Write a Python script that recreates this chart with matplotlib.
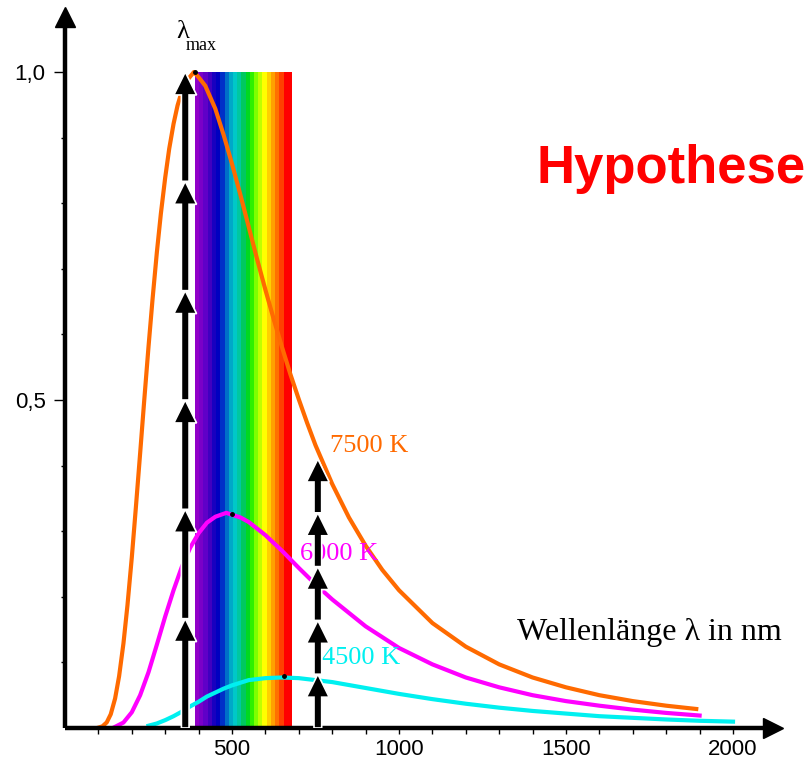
import matplotlib
matplotlib.use('Agg')
import matplotlib.pyplot as plt
import numpy as np
from matplotlib.patches import FancyArrow
from matplotlib.colors import to_rgb

# ---- data ----
wl_7500 = [100, 112, 125, 137, 150, 162, 175, 187, 200, 212, 225, 237, 250, 262, 275, 287,
           300, 312, 325, 337, 350, 360, 370, 386, 400, 420, 450, 475, 500, 525, 550, 575,
           600, 625, 650, 675, 700, 725, 750, 800, 850, 900, 950, 1000, 1100, 1200, 1300,
           1400, 1500, 1600, 1700, 1800, 1890]
val_7500 = [0.0006, 0.0025, 0.0086, 0.021, 0.045, 0.079, 0.129, 0.187, 0.260, 0.335, 0.419,
            0.498, 0.581, 0.653, 0.725, 0.784, 0.839, 0.883, 0.921, 0.949, 0.971, 0.983,
            0.990, 1.000, 0.992, 0.979, 0.944, 0.904, 0.860, 0.813, 0.764, 0.715, 0.668,
            0.623, 0.580, 0.539, 0.501, 0.465, 0.431, 0.372, 0.321, 0.278, 0.241, 0.210,
            0.160, 0.124, 0.097, 0.077, 0.062, 0.050, 0.041, 0.034, 0.029]

wl_6000 = [150, 175, 200, 225, 250, 275, 300, 325, 350, 375, 400, 425, 450, 483, 500, 525,
           550, 575, 600, 625, 650, 700, 750, 800, 900, 1000, 1100, 1200, 1300, 1400, 1500,
           1600, 1700, 1800, 1900]
val_6000 = [0.0018, 0.0083, 0.024, 0.050, 0.085, 0.127, 0.170, 0.210, 0.246, 0.275, 0.297,
            0.313, 0.322, 0.328, 0.325, 0.321, 0.314, 0.304, 0.294, 0.282, 0.270, 0.244,
            0.219, 0.196, 0.155, 0.122, 0.097, 0.077, 0.062, 0.050, 0.041, 0.034, 0.028,
            0.023, 0.019]

wl_4500 = [250, 275, 300, 325, 350, 375, 400, 425, 450, 475, 500, 550, 600, 650, 700, 750,
           800, 900, 1000, 1100, 1200, 1300, 1400, 1500, 1600, 1700, 1800, 1900, 2000]
val_4500 = [0.0035, 0.0069, 0.012, 0.018, 0.025, 0.033, 0.040, 0.048, 0.054, 0.060, 0.065,
            0.073, 0.076, 0.077, 0.076, 0.073, 0.070, 0.061, 0.052, 0.044, 0.037, 0.031,
            0.026, 0.022, 0.018, 0.0155, 0.013, 0.011, 0.0097]

curve_labels = ['7500 K', '6000 K', '4500 K']
curve_colors = ['#ff6a00', '#ff00ff', '#00f0f0']
label_pos_nm = [793, 704, 770]
label_pos_val = [0.430, 0.266, 0.106]

peak_nm = [390, 500, 657]
peak_val = [1.0, 0.326, 0.079]

spectrum_range = [390, 680]
spectrum_colors = ['#9000c8', '#7a00c8', '#6000c8', '#4000c0', '#1800c0', '#0000c0',
                   '#0030c8', '#0070c8', '#00a8c8', '#00c8c8', '#00c8a0', '#00c860',
                   '#00d820', '#30f000', '#80ff00', '#c0ff00', '#ffff00', '#ffd000',
                   '#ffa000', '#ff7000', '#ff4000', '#ff0000', '#ff0000']

# arrow columns: x position (nm), top value, number of stacked arrows
arrow_x = [360, 757]
arrow_top = [1.0, 0.41]
arrow_n = [6, 5]

x_major = [500, 1000, 1500, 2000]
x_major_labels = ['500', '1000', '1500', '2000']
y_major = [0.5, 1.0]
y_major_labels = ['0,5', '1,0']

# ---- figure ----
fig = plt.figure(figsize=(8.12, 7.66), dpi=100)
XMAX, YMAX = 2120, 1.084
ax = fig.add_axes([65 / 812, 38 / 766, XMAX * 0.334 / 812, YMAX * 656 / 766])

img = np.array([[to_rgb(c) for c in spectrum_colors]])
ax.imshow(img, extent=[spectrum_range[0], spectrum_range[1], 0, 1.0], aspect='auto',
          interpolation='nearest', zorder=1)

for wl, val, col in zip([wl_7500, wl_6000, wl_4500], [val_7500, val_6000, val_4500], curve_colors):
    ax.plot(wl, val, color=col, lw=3, zorder=2, solid_joinstyle='round')

ax.plot(peak_nm, peak_val, 'o', color='black', ms=2.5, zorder=3)

for lab, col, xn, yv in zip(curve_labels, curve_colors, label_pos_nm, label_pos_val):
    ax.text(xn, yv, lab, color=col, fontsize=19, family='Liberation Serif', va='center',
            ha='left', zorder=3)

for xa, top, n in zip(arrow_x, arrow_top, arrow_n):
    step = top / n
    for k in range(n):
        ar = FancyArrow(xa, k * step, 0, step, width=23, head_width=68, head_length=0.035,
                        length_includes_head=True, fc='black', ec='white', lw=1.2, zorder=5)
        ax.add_patch(ar)

ax.text(353, 1.061, 'λ', fontsize=19, family='Liberation Serif', ha='center', va='center')
ax.text(362, 1.041, 'max', fontsize=13, family='Liberation Serif', ha='left', va='center')

ax.text(1353, 0.146, 'Wellenlänge λ in nm', fontsize=23, family='Liberation Serif',
        va='center', ha='left', clip_on=False)
ax.text(1413, 0.852, 'Hypothese', fontsize=38, fontweight='bold', color='#ff0000',
        family='Liberation Sans', va='center', ha='left', clip_on=False)

ax.set_xlim(0, XMAX)
ax.set_ylim(0, YMAX)
for s in ['top', 'right']:
    ax.spines[s].set_visible(False)
for s in ['left', 'bottom']:
    ax.spines[s].set_linewidth(3.2)
    ax.spines[s].set_capstyle('butt')

ax.plot(1, 0, marker='>', color='black', ms=15, transform=ax.transAxes, clip_on=False, zorder=6)
ax.plot(0, 1, marker='^', color='black', ms=15, transform=ax.transAxes, clip_on=False, zorder=6)

ax.set_xticks(x_major)
ax.set_xticklabels(x_major_labels)
ax.set_xticks(np.arange(100, 2101, 100), minor=True)
ax.set_yticks(y_major)
ax.set_yticklabels(y_major_labels)
ax.set_yticks([0.1, 0.2, 0.3, 0.4, 0.6, 0.7, 0.8, 0.9], minor=True)
ax.tick_params(axis='x', which='both', direction='out', length=4, width=1, pad=4,
               labelsize=16)
ax.tick_params(axis='y', which='major', direction='out', length=8, width=1, pad=6,
               labelsize=16)
ax.tick_params(axis='y', which='minor', direction='out', length=3, width=1)
for t in ax.get_xticklabels() + ax.get_yticklabels():
    t.set_family('Liberation Sans')

fig.savefig('out.png', dpi=100)
